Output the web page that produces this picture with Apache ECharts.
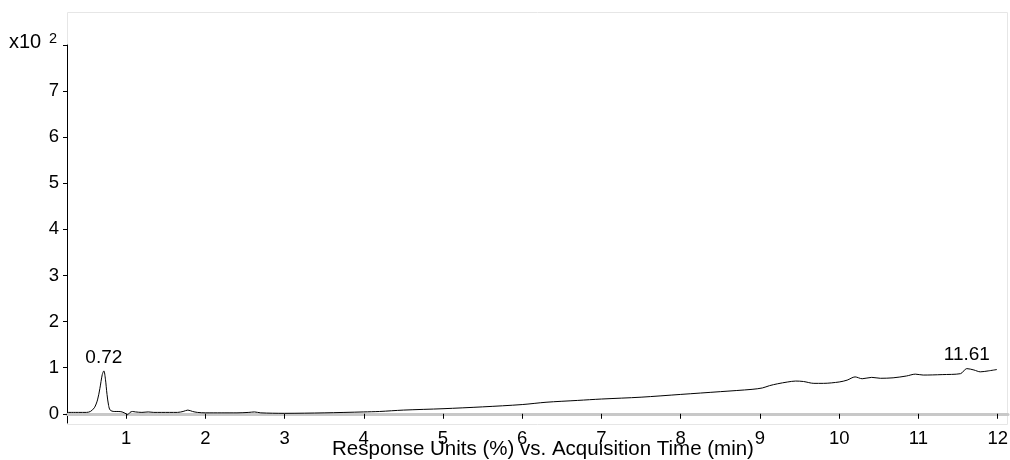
<!DOCTYPE html>
<html>
<head>
<meta charset="utf-8">
<script src="https://cdn.jsdelivr.net/npm/echarts@6/dist/echarts.min.js"></script>
<style>
  html, body { margin: 0; padding: 0; background: #fff; }
  #chart { width: 1010px; height: 460px; }
</style>
</head>
<body>
<div id="chart"></div>
<script>
// Acquisition time (min) and detector response (x10^2 %)
const times = [0.26, 0.40, 0.50, 0.55, 0.60, 0.64, 0.67, 0.70, 0.72, 0.74, 0.76, 0.78, 0.80, 0.85, 0.90, 0.95,
  1.00, 1.02, 1.05, 1.08, 1.12, 1.20, 1.28, 1.35, 1.45, 1.55, 1.65, 1.72, 1.78, 1.84, 1.90,
  2.00, 2.20, 2.40, 2.55, 2.62, 2.70, 3.00, 3.50, 4.00, 4.20, 4.50, 5.00, 5.50, 6.00, 6.30, 6.70,
  7.00, 7.50, 8.00, 8.50, 8.90, 9.03, 9.12, 9.22, 9.35, 9.45, 9.55, 9.68, 9.80, 10.00, 10.10,
  10.20, 10.29, 10.41, 10.52, 10.68, 10.85, 10.96, 11.06, 11.30, 11.53, 11.61, 11.70, 11.78, 11.88, 11.99];
const response = [0.03, 0.03, 0.03, 0.05, 0.13, 0.30, 0.55, 0.85, 0.93, 0.75, 0.42, 0.18, 0.08, 0.05, 0.05, 0.04,
  0.00, -0.02, 0.03, 0.05, 0.04, 0.03, 0.04, 0.03, 0.03, 0.03, 0.03, 0.05, 0.08, 0.05, 0.03,
  0.02, 0.02, 0.02, 0.03, 0.04, 0.02, 0.01, 0.02, 0.04, 0.05, 0.08, 0.11, 0.15, 0.20, 0.25, 0.29,
  0.32, 0.36, 0.42, 0.48, 0.53, 0.56, 0.61, 0.65, 0.69, 0.71, 0.70, 0.66, 0.66, 0.69, 0.73,
  0.80, 0.76, 0.79, 0.77, 0.78, 0.82, 0.86, 0.84, 0.85, 0.87, 0.98, 0.95, 0.91, 0.93, 0.96];
// Retention times that get a peak annotation
const labelledPeaks = [0.72, 11.61];

const xTicks = [1, 2, 3, 4, 5, 6, 7, 8, 9, 10, 11, 12];
const yTicks = [0, 1, 2, 3, 4, 5, 6, 7, 8];
const yLabels = [0, 1, 2, 3, 4, 5, 6, 7];

const axisTitle = 'Response Units (%) vs. Acquisition Time (min)';
const FONT = '"Liberation Sans", Arial, sans-serif';

const seriesData = times.map((t, i) => {
  const item = { value: [t, response[i]] };
  if (labelledPeaks.includes(t)) {
    item.label = { show: true };
  }
  return item;
});

const chart = echarts.init(document.getElementById('chart'), null, { renderer: 'canvas' });

chart.setOption({
  animation: false,
  backgroundColor: '#ffffff',
  grid: { left: 67, top: 45, right: 2, bottom: 37, containLabel: false, outerBoundsMode: 'none' },
  xAxis: {
    type: 'value',
    min: 0.255,
    max: 12.13,
    offset: 2,
    name: axisTitle,
    nameLocation: 'middle',
    nameGap: 14,
    nameMoveOverlap: false,
    nameTextStyle: { fontFamily: FONT, fontSize: 20.5, color: '#000', padding: [0, 0, 0, 11] },
    axisLine: { show: true, lineStyle: { color: '#c8c8c8', width: 3 } },
    axisTick: { show: true, customValues: xTicks, length: 5, inside: false, lineStyle: { color: '#000', width: 1 } },
    axisLabel: { customValues: xTicks, fontFamily: FONT, fontSize: 18.5, color: '#000', margin: 4 },
    splitLine: { show: false }
  },
  yAxis: {
    type: 'value',
    min: -0.2,
    max: 8,
    axisLine: { show: true, lineStyle: { color: '#000', width: 1 } },
    axisTick: { show: true, customValues: yTicks, length: 4, lineStyle: { color: '#000', width: 1 } },
    axisLabel: { customValues: yLabels, fontFamily: FONT, fontSize: 18.5, color: '#000', margin: 8 },
    splitLine: { show: false }
  },
  graphic: [
    {
      type: 'rect',
      shape: { x: 67.5, y: 12.5, width: 940, height: 412 },
      style: { fill: 'none', stroke: '#e6e6e6', lineWidth: 1 },
      silent: true,
      z: -1
    },
    {
      type: 'text',
      left: 9,
      top: 32,
      style: { text: 'x10', font: '20px ' + FONT, fill: '#000' }
    },
    {
      type: 'text',
      left: 49,
      top: 31,
      style: { text: '2', font: '14.5px ' + FONT, fill: '#000' }
    }
  ],
  series: [
    {
      type: 'line',
      data: seriesData,
      smooth: 0.3,
      symbol: 'circle',
      symbolSize: 0,
      showSymbol: true,
      lineStyle: { color: '#000', width: 1 },
      itemStyle: { color: '#000' },
      label: {
        show: false,
        position: 'top',
        distance: 4,
        fontFamily: FONT,
        fontSize: 19,
        color: '#000',
        formatter: p => p.value[0].toFixed(2)
      },
      emphasis: { disabled: true }
    }
  ]
});
</script>
</body>
</html>
